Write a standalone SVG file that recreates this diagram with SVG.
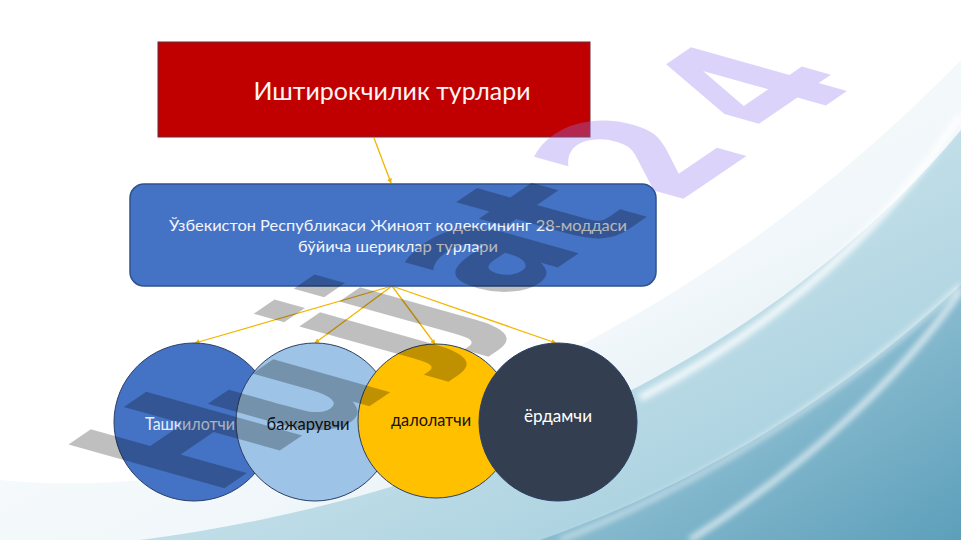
<svg xmlns="http://www.w3.org/2000/svg" width="961" height="540" viewBox="0 0 961 540">
<defs>
<linearGradient id="bgA" x1="0" y1="0" x2="1" y2="1"><stop offset="0" stop-color="#ffffff"/><stop offset="0.6" stop-color="#f1f7fa"/><stop offset="1" stop-color="#d0e5ee"/></linearGradient>
<linearGradient id="bgB" x1="0" y1="0" x2="1" y2="1"><stop offset="0" stop-color="#e6f2f6"/><stop offset="1" stop-color="#9ccada"/></linearGradient>
<linearGradient id="bgC" x1="0" y1="0" x2="1" y2="1"><stop offset="0" stop-color="#b5d8e5"/><stop offset="1" stop-color="#5d9fba"/></linearGradient>
<filter id="blur" x="-10%" y="-10%" width="120%" height="120%"><feGaussianBlur stdDeviation="3"/></filter>
<marker id="ah" viewBox="0 0 10 10" refX="9" refY="5" markerWidth="5" markerHeight="5" orient="auto-start-reverse" markerUnits="userSpaceOnUse"><path d="M0,0 L10,5 L0,10 z" fill="#f0b400"/></marker>
<style>
.conn{stroke:#f2b600;stroke-width:1.3;fill:none;marker-end:url(#ah)}
.lbl{font-family:Lato,"Open Sans","Liberation Sans",sans-serif}
.circ{stroke:#2a3f66;stroke-width:1}
</style>
</defs>
<g id="background">
<rect width="961" height="540" fill="#ffffff"/>
<path d="M0 540 L0 480 C250 505 640 390 961 60 L961 540 Z" fill="url(#bgA)"/>
<path d="M140 540 C450 500 760 370 961 130 L961 540 Z" fill="url(#bgB)"/>
<path d="M640 398 C770 330 880 235 961 115" stroke="#ffffff" stroke-width="7" fill="none" opacity="0.9" filter="url(#blur)"/>
<path d="M540 540 C740 470 880 360 961 285 L961 540 Z" fill="url(#bgC)"/>
<path d="M690 540 C800 470 900 380 961 290" stroke="#ffffff" stroke-width="5" fill="none" opacity="0.85" filter="url(#blur)"/>
<path d="M560 540 C740 470 880 360 961 285" stroke="#ffffff" stroke-width="4" fill="none" opacity="0.7" filter="url(#blur)"/>
</g>
<g id="connectors">
<line class="conn" x1="374" y1="138" x2="391" y2="183"/>
<line class="conn" x1="392" y1="286" x2="195" y2="343"/>
<line class="conn" x1="392" y1="286" x2="315" y2="343"/>
<line class="conn" x1="392" y1="286" x2="435" y2="344"/>
<line class="conn" x1="392" y1="286" x2="556" y2="343"/>
</g>
<g id="title">
<rect x="158" y="42" width="432" height="95" fill="#c00000" stroke="#6b2a3a" stroke-width="1"/>
<text class="lbl" x="392" y="100" font-size="25" fill="#fff4f4" text-anchor="middle" textLength="277" lengthAdjust="spacingAndGlyphs">Иштирокчилик турлари</text>
</g>
<g id="codex">
<rect x="130" y="184" width="526" height="102" rx="14" fill="#4472c4" stroke="#2f528f" stroke-width="1.5"/>
<text class="lbl" font-size="16" fill="#f2f5fb" text-anchor="middle"><tspan x="398" y="231" textLength="458" lengthAdjust="spacingAndGlyphs">Ўзбекистон Республикаси Жиноят кодексининг 28-моддаси</tspan><tspan x="398" y="252" textLength="200" lengthAdjust="spacingAndGlyphs">бўйича шериклар турлари</tspan></text>
</g>
<g id="organizer">
<ellipse class="circ" cx="194" cy="422" rx="80" ry="79" fill="#4472c4"/>
<text class="lbl" x="190" y="430" font-size="17" fill="#e6eefa" text-anchor="middle" textLength="90" lengthAdjust="spacingAndGlyphs">Ташкилотчи</text>
</g>
<g id="executor">
<ellipse class="circ" cx="315" cy="422" rx="79" ry="79" fill="#9dc3e6"/>
<text class="lbl" x="308" y="430" font-size="17" fill="#111111" text-anchor="middle" textLength="83" lengthAdjust="spacingAndGlyphs">бажарувчи</text>
</g>
<g id="instigator">
<ellipse class="circ" cx="436" cy="421" rx="78" ry="77" fill="#ffc000"/>
<text class="lbl" x="431" y="426" font-size="17" fill="#111111" text-anchor="middle" textLength="80" lengthAdjust="spacingAndGlyphs">далолатчи</text>
</g>
<g id="accomplice">
<ellipse class="circ" cx="558" cy="422" rx="79" ry="79" fill="#333f50"/>
<text class="lbl" x="558" y="422" font-size="17" fill="#ffffff" text-anchor="middle" textLength="68" lengthAdjust="spacingAndGlyphs">ёрдамчи</text>
</g>
<g id="watermark" pointer-events="none">
<text transform="matrix(1.19,-0.81,2.14,0.60,0,0)" font-family="DejaVu Sans" font-weight="bold" font-size="100"><tspan fill="#000000" fill-opacity="0.25" x="-381.2 -310.1 -220.5 -188.8 -139.2 -75" y="311.7 319.9 312.4 313.5 314.7 319.5">Hujjat</tspan><tspan fill="#9678f0" fill-opacity="0.33" x="-14.2 73.5" y="322.8 324.5">24</tspan></text>
</g>
</svg>
